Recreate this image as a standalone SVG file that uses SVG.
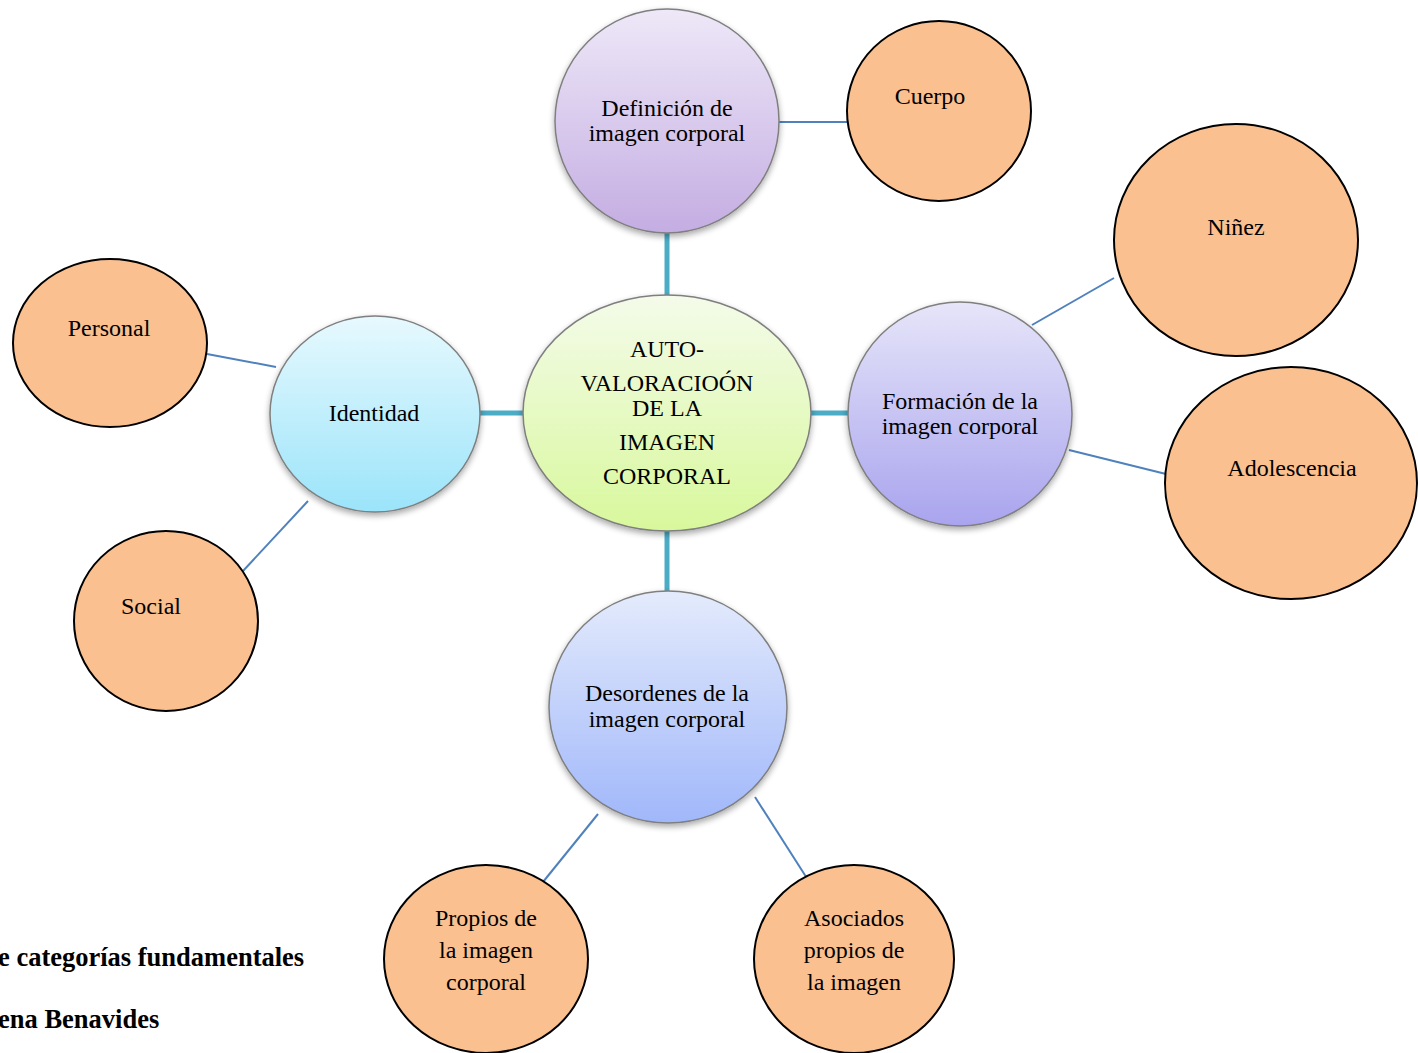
<svg xmlns="http://www.w3.org/2000/svg" width="1418" height="1053" viewBox="0 0 1418 1053">
  <style>
    text { font-family: "Liberation Serif", "Times New Roman", serif; font-size: 24px; fill: #000; text-anchor: middle; }
    .caption { font-weight: bold; font-size: 26.5px; text-anchor: start; }
    .hub { stroke: #4bacc6; stroke-width: 5; fill: none; }
    .leaf-link { stroke: #4f81bd; stroke-width: 2; fill: none; }
    .main { stroke: #7f7f7f; stroke-width: 1.5; filter: url(#shadow); }
    .leaf { fill: #fac090; stroke: #000; stroke-width: 2; }
  </style>
  <defs>
    <filter id="shadow" x="-20%" y="-20%" width="140%" height="150%">
      <feGaussianBlur in="SourceAlpha" stdDeviation="3"/>
      <feOffset dx="0" dy="3" result="b"/>
      <feComponentTransfer><feFuncA type="linear" slope="0.35"/></feComponentTransfer>
      <feMerge><feMergeNode/><feMergeNode in="SourceGraphic"/></feMerge>
    </filter>
    <linearGradient id="gCenter" x1="0" y1="0" x2="0" y2="1">
      <stop offset="0" stop-color="#f4fbea"/>
      <stop offset="1" stop-color="#d8f89c"/>
    </linearGradient>
    <linearGradient id="gDef" x1="0" y1="0" x2="0" y2="1">
      <stop offset="0" stop-color="#eee8f8"/>
      <stop offset="1" stop-color="#c4ade2"/>
    </linearGradient>
    <linearGradient id="gIdent" x1="0" y1="0" x2="0" y2="1">
      <stop offset="0" stop-color="#e7f9fe"/>
      <stop offset="1" stop-color="#9be4fa"/>
    </linearGradient>
    <linearGradient id="gForm" x1="0" y1="0" x2="0" y2="1">
      <stop offset="0" stop-color="#e6e5f9"/>
      <stop offset="1" stop-color="#a9a4ee"/>
    </linearGradient>
    <linearGradient id="gDes" x1="0" y1="0" x2="0" y2="1">
      <stop offset="0" stop-color="#e4ebfc"/>
      <stop offset="1" stop-color="#a0b7fa"/>
    </linearGradient>
  </defs>

  <rect width="1418" height="1053" fill="#fff"/>

  <g id="connectors">
    <line class="hub" x1="667" y1="232" x2="667" y2="298"/>
    <line class="hub" x1="667" y1="530" x2="667" y2="593"/>
    <line class="hub" x1="478" y1="413" x2="525" y2="413"/>
    <line class="hub" x1="809" y1="413" x2="850" y2="413"/>
    <line class="leaf-link" x1="779" y1="122" x2="848" y2="122"/>
    <line class="leaf-link" x1="207" y1="354" x2="276" y2="367"/>
    <line class="leaf-link" x1="308" y1="501" x2="243" y2="571"/>
    <line class="leaf-link" x1="1032" y1="325" x2="1114" y2="278"/>
    <line class="leaf-link" x1="1069" y1="450" x2="1166" y2="474"/>
    <line class="leaf-link" x1="598" y1="814" x2="543" y2="882"/>
    <line class="leaf-link" x1="755" y1="797" x2="810" y2="883"/>
  </g>

  <g id="node-center">
    <ellipse class="main" cx="667" cy="413" rx="144" ry="118" fill="url(#gCenter)"/>
    <text x="667" y="357">AUTO-</text>
    <text x="667" y="391">VALORACIOÓN</text>
    <text x="667" y="416">DE LA</text>
    <text x="667" y="450">IMAGEN</text>
    <text x="667" y="484">CORPORAL</text>
  </g>

  <g id="node-definicion">
    <ellipse class="main" cx="667" cy="121" rx="112" ry="112" fill="url(#gDef)"/>
    <text x="667" y="116">Definición de</text>
    <text x="667" y="141">imagen corporal</text>
  </g>

  <g id="node-identidad">
    <ellipse class="main" cx="375" cy="414" rx="105" ry="98" fill="url(#gIdent)"/>
    <text x="374" y="421">Identidad</text>
  </g>

  <g id="node-formacion">
    <ellipse class="main" cx="960" cy="414" rx="112" ry="112" fill="url(#gForm)"/>
    <text x="960" y="409">Formación de la</text>
    <text x="960" y="434">imagen corporal</text>
  </g>

  <g id="node-desordenes">
    <ellipse class="main" cx="668" cy="707" rx="119" ry="116" fill="url(#gDes)"/>
    <text x="667" y="701">Desordenes de la</text>
    <text x="667" y="727">imagen corporal</text>
  </g>

  <g id="node-cuerpo">
    <ellipse class="leaf" cx="939" cy="111" rx="92" ry="90"/>
    <text x="930" y="104">Cuerpo</text>
  </g>

  <g id="node-personal">
    <ellipse class="leaf" cx="110" cy="343" rx="97" ry="84"/>
    <text x="109" y="336">Personal</text>
  </g>

  <g id="node-social">
    <ellipse class="leaf" cx="166" cy="621" rx="92" ry="90"/>
    <text x="151" y="614">Social</text>
  </g>

  <g id="node-ninez">
    <ellipse class="leaf" cx="1236" cy="240" rx="122" ry="116"/>
    <text x="1236" y="235">Niñez</text>
  </g>

  <g id="node-adolescencia">
    <ellipse class="leaf" cx="1291" cy="483" rx="126" ry="116"/>
    <text x="1292" y="476">Adolescencia</text>
  </g>

  <g id="node-propios">
    <ellipse class="leaf" cx="486" cy="959" rx="102" ry="94"/>
    <text x="486" y="926">Propios de</text>
    <text x="486" y="958">la imagen</text>
    <text x="486" y="990">corporal</text>
  </g>

  <g id="node-asociados">
    <ellipse class="leaf" cx="854" cy="959" rx="100" ry="94"/>
    <text x="854" y="926">Asociados</text>
    <text x="854" y="958">propios de</text>
    <text x="854" y="990">la imagen</text>
  </g>

  <g id="caption">
    <text class="caption" x="-2" y="966">e categorías fundamentales</text>
    <text class="caption" x="-2" y="1028">ena Benavides</text>
  </g>
</svg>
